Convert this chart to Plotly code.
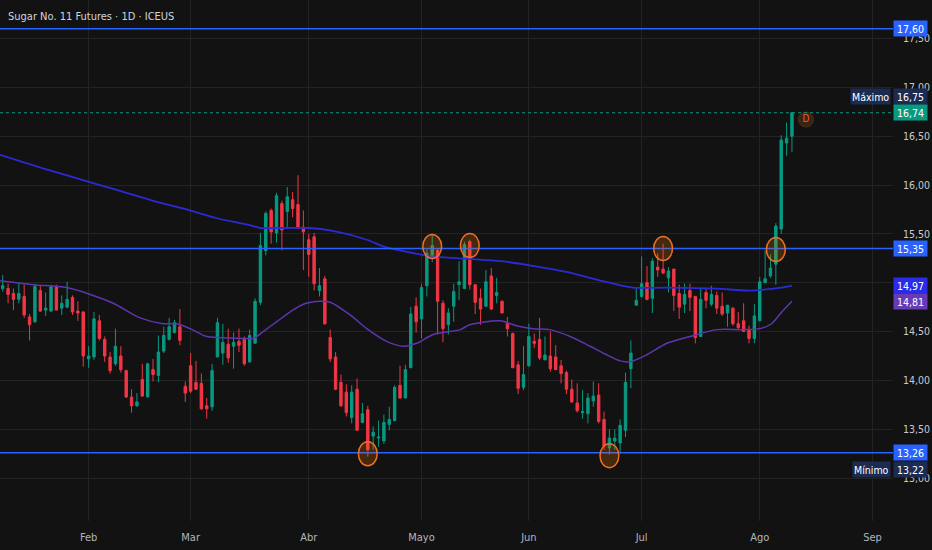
import plotly.graph_objects as go

# ---------------- data ----------------
bar_idx = list(range(148))

opens = [14.94,14.94,14.89,14.83,14.86,14.65,14.60,14.92,14.72,14.71,
14.96,14.74,14.75,14.85,14.71,14.70,14.22,14.24,14.61,14.42,
14.24,14.17,14.25,14.10,13.83,13.74,14.01,13.83,14.11,14.05,
14.30,14.42,14.49,14.55,13.94,14.15,13.98,13.97,13.74,13.73,
14.24,14.28,14.37,14.35,14.40,14.42,14.19,14.38,14.80,15.33,
15.74,15.51,15.81,15.73,15.85,15.80,15.57,15.44,15.47,14.92,
15.04,14.44,14.24,13.98,13.88,13.62,13.91,13.57,13.70,13.43,
13.41,13.38,13.55,13.59,13.95,13.82,14.13,14.76,14.63,14.97,
15.28,15.33,14.79,14.57,14.76,14.98,14.94,15.42,14.98,14.84,
14.76,15.07,14.87,14.81,14.58,14.48,14.16,13.93,14.15,14.40,
14.42,14.21,14.25,14.24,14.15,14.08,13.91,13.77,13.67,13.66,
13.79,13.85,13.60,13.31,13.38,13.36,13.49,14.12,14.77,14.86,
15.00,14.84,15.16,15.14,15.05,15.14,14.89,14.78,14.92,14.86,
14.45,14.90,14.78,14.87,14.76,14.69,14.74,14.58,14.61,14.52,
14.43,14.61,15.00,15.07,15.19,15.55,16.43,16.50]

highs = [15.08,14.99,14.94,14.99,14.98,14.68,14.99,14.98,14.90,14.98,
14.98,14.87,15.01,14.87,14.81,14.71,14.35,14.70,14.67,14.45,
14.29,14.53,14.35,14.11,13.91,13.87,14.17,14.18,14.22,14.46,
14.55,14.64,14.62,14.73,13.99,14.28,14.20,14.07,13.82,14.17,
14.64,14.58,14.53,14.49,14.53,14.45,14.52,14.84,15.51,15.73,
15.76,15.92,15.84,15.98,15.93,16.10,15.74,15.50,15.51,15.15,
15.07,14.52,14.29,14.06,13.96,13.95,14.02,13.77,13.74,13.53,
13.59,13.65,13.73,13.95,14.15,14.16,14.75,14.85,14.99,15.34,
15.50,15.35,14.82,14.74,14.99,15.22,15.42,15.44,14.98,14.94,
15.13,15.15,15.05,14.82,14.65,14.49,14.20,14.35,14.58,14.48,
14.64,14.45,14.50,14.36,14.21,14.10,14.01,13.97,13.90,13.87,
13.99,13.97,13.68,13.50,13.50,13.60,14.08,14.41,14.94,15.27,
15.17,15.25,15.30,15.40,15.16,15.14,14.98,14.99,14.99,14.86,
14.94,14.94,14.97,14.91,14.90,14.77,14.75,14.70,14.79,14.56,
14.78,15.06,15.33,15.29,15.61,16.51,16.64,16.75]

lows = [14.91,14.79,14.72,14.79,14.64,14.41,14.59,14.70,14.66,14.70,
14.72,14.67,14.74,14.67,14.61,14.14,14.13,14.21,14.41,14.19,
14.07,14.15,14.08,13.82,13.67,13.73,13.83,13.83,13.99,13.98,
14.28,14.41,14.48,14.36,13.78,13.87,13.90,13.70,13.61,13.69,
14.24,14.16,14.18,14.12,14.29,14.15,14.18,14.38,14.77,15.28,
15.40,15.41,15.33,15.55,15.67,15.55,15.13,15.06,14.92,14.86,
14.57,14.19,13.90,13.73,13.63,13.56,13.49,13.56,13.22,13.29,
13.32,13.35,13.49,13.58,13.81,13.82,14.13,14.49,14.43,14.86,
15.21,14.47,14.39,14.47,14.60,14.82,14.94,14.93,14.68,14.57,
14.75,14.72,14.79,14.69,14.45,14.13,13.86,13.90,14.14,14.33,
14.21,14.21,14.09,14.11,13.97,13.86,13.77,13.67,13.61,13.56,
13.73,13.56,13.29,13.24,13.29,13.25,13.42,13.92,14.77,14.85,
14.82,14.69,15.06,15.09,14.90,14.71,14.63,14.69,14.71,14.38,
14.45,14.74,14.76,14.68,14.66,14.55,14.56,14.52,14.50,14.38,
14.38,14.61,15.00,15.05,14.98,15.50,16.30,16.34]

closes = [14.97,14.88,14.83,14.89,14.67,14.57,14.96,14.71,14.74,14.96,
14.72,14.79,14.83,14.70,14.69,14.25,14.25,14.63,14.43,14.25,
14.10,14.35,14.11,13.83,13.74,13.78,13.84,14.17,14.06,14.29,
14.46,14.55,14.59,14.41,13.87,13.89,13.91,13.71,13.71,14.10,
14.59,14.39,14.23,14.39,14.36,14.17,14.46,14.81,15.38,15.71,
15.52,15.89,15.54,15.88,15.76,15.56,15.52,15.29,14.99,14.97,
14.58,14.22,13.91,13.74,13.67,13.88,13.49,13.66,13.29,13.47,
13.42,13.57,13.60,13.93,13.82,14.11,14.68,14.60,14.95,15.30,
15.38,14.81,14.53,14.69,14.91,15.01,15.39,14.98,14.80,14.73,
15.01,14.73,14.90,14.69,14.53,14.13,13.92,14.06,14.45,14.38,
14.23,14.26,14.12,14.11,14.07,13.91,13.78,13.69,13.68,13.82,
13.84,13.58,13.33,13.41,13.41,13.54,13.98,14.28,14.82,14.99,
14.83,15.22,15.13,15.10,15.12,14.87,14.75,14.88,14.85,14.44,
14.83,14.82,14.88,14.74,14.68,14.77,14.58,14.54,14.50,14.43,
14.66,15.01,15.04,15.15,15.58,16.46,16.48,16.74]

# moving averages (bar index, value)
ma_long_idx = [-0.5, 8.8, 18.1, 24.3, 29.3, 33.6, 39.9, 46, 48, 52, 57, 61.5,
               67.8, 71, 74, 80, 85, 93, 99, 105, 113, 117.4, 123.7, 133, 139,
               145, 147]
ma_long = [16.31, 16.15, 16.00, 15.90, 15.82, 15.76, 15.66, 15.59, 15.56, 15.56,
           15.56, 15.53, 15.44, 15.37, 15.33, 15.27, 15.25, 15.22, 15.17, 15.11,
           15.00, 14.95, 14.95, 14.94, 14.92, 14.95, 14.97]

ma_short_idx = [-0.5, 5.7, 11.9, 16.3, 20.6, 25.6, 29.9, 32.4, 34.9, 38, 40,
                44.8, 46.7, 48.5, 51, 53.5, 56, 59.1, 61, 64.7, 67.8, 71.5, 74.6,
                77.1, 80.2, 85.2, 87, 92.6, 95.7, 98.8, 101.9, 105.7, 109.4,
                112.2, 115, 116.8, 119.9, 123.7, 128, 133, 137.9, 141, 143.2,
                145.1, 147]
ma_short = [15.02, 14.98, 14.95, 14.88, 14.79, 14.64, 14.58, 14.58, 14.53, 14.45,
            14.44, 14.43, 14.43, 14.50, 14.60, 14.70, 14.78, 14.81, 14.80, 14.67,
            14.53, 14.40, 14.35, 14.38, 14.47, 14.52, 14.57, 14.61, 14.56, 14.53,
            14.52, 14.45, 14.35, 14.27, 14.20, 14.19, 14.26, 14.38, 14.45, 14.52,
            14.52, 14.53, 14.58, 14.70, 14.81]

# horizontal levels
level_prices = [17.60, 15.35, 13.26]

# circled touches (bar index, price)
circle_idx = [68, 80, 87, 113, 123, 144]
circle_price = [13.25, 15.37, 15.38, 13.23, 15.35, 15.34]

# event marker
event_idx = [149.6]
event_price = [16.67]
event_text = ["D"]

# x-axis month labels (bar index of first session of month)
month_idx = [16, 35, 57, 78, 98, 119, 141, 162]
month_labels = ["Feb", "Mar", "Abr", "Mayo", "Jun", "Jul", "Ago", "Sep"]

# price-axis ticks; the 15,00 label sits fully under the 14,97 badge in the reference
price_ticks = [13.0, 13.5, 14.0, 14.5, 15.0, 15.5, 16.0, 16.5, 17.0, 17.5]
price_tick_text = ["13,00", "13,50", "14,00", "14,50", "", "15,50", "16,00",
                   "16,50", "17,00", "17,50"]

title_text = "Sugar No. 11 Futures · 1D · ICEUS"

# ---------------- style ----------------
BG = "#121212"
GRID = "#232323"
UP = "#089981"
DOWN = "#f23645"
LEVEL = "#2962ff"
MA_LONG_C = "#2b2bd6"
MA_SHORT_C = "#5e35b1"
NAVY = "#1c2b52"
FONT = "Liberation Sans Narrow, DejaVu Sans Condensed, Liberation Sans, Arial, sans-serif"

def fmt(v):
    return f"{v:.2f}".replace(".", ",")

fig = go.Figure()

fig.add_trace(go.Candlestick(
    x=bar_idx, open=opens, high=highs, low=lows, close=closes,
    increasing=dict(line=dict(color=UP, width=1), fillcolor=UP),
    decreasing=dict(line=dict(color=DOWN, width=1), fillcolor=DOWN),
    whiskerwidth=0, showlegend=False, hoverinfo="skip",
))

fig.add_trace(go.Scatter(
    x=ma_long_idx, y=ma_long, mode="lines",
    line=dict(color=MA_LONG_C, width=1.8, shape="spline", smoothing=0.8),
    showlegend=False, hoverinfo="skip",
))
fig.add_trace(go.Scatter(
    x=ma_short_idx, y=ma_short, mode="lines",
    line=dict(color=MA_SHORT_C, width=1.5, shape="spline", smoothing=0.8),
    showlegend=False, hoverinfo="skip",
))

# event marker "D"
fig.add_trace(go.Scatter(
    x=event_idx, y=event_price, mode="markers+text", text=event_text,
    textposition="middle center",
    textfont=dict(color="#e8612c", size=10, family=FONT),
    marker=dict(size=15, color="#3a2416", line=dict(color="#4d2d18", width=1)),
    showlegend=False, hoverinfo="skip",
))

shapes = []
for p in level_prices:
    shapes.append(dict(type="line", xref="paper", x0=0, x1=1, yref="y", y0=p, y1=p,
                       line=dict(color=LEVEL, width=1.5)))
# last price dotted line
shapes.append(dict(type="line", xref="paper", x0=0, x1=1, yref="y",
                   y0=closes[-1], y1=closes[-1],
                   line=dict(color=UP, width=1, dash="dot")))
HW, HH = 1.75, 0.123
for ci, cp in zip(circle_idx, circle_price):
    shapes.append(dict(type="circle", xref="x", yref="y",
                       x0=ci - HW, x1=ci + HW, y0=cp - HH, y1=cp + HH,
                       line=dict(color="#e8702a", width=1.5),
                       fillcolor="rgba(245,124,0,0.22)"))

annotations = [dict(
    text=title_text, xref="paper", yref="paper", x=0, y=1, xshift=6, yshift=-16,
    xanchor="left", yanchor="middle", showarrow=False,
    font=dict(color="#d1d4dc", size=11, family=FONT),
)]

def badge(value, color, yshift=0):
    return dict(text=fmt(value), xref="paper", yref="y", x=1, y=value,
                xanchor="left", yanchor="middle", yshift=yshift, showarrow=False,
                bgcolor=color, width=31, height=13, borderpad=1, align="center",
                font=dict(color="white", size=10.5, family=FONT))

def tag(label, value, yshift):
    return dict(text=label, xref="paper", yref="y", x=1, y=value, xshift=-2,
                xanchor="right", yanchor="middle", yshift=yshift, showarrow=False,
                bgcolor=NAVY, height=13, borderpad=1,
                font=dict(color="white", size=10.5, family=FONT))

hi_val = max(highs)
lo_val = min(lows)
annotations += [
    badge(level_prices[0], LEVEL),
    badge(hi_val, NAVY, 15), tag("Máximo", hi_val, 15),
    badge(closes[-1], UP),
    badge(level_prices[1], LEVEL),
    badge(ma_long[-1], "#2b2be8"),
    badge(ma_short[-1], "#673ab7"),
    badge(level_prices[2], LEVEL),
    badge(lo_val, NAVY, -13), tag("Mínimo", lo_val, -13),
]

fig.update_layout(
    width=932, height=550,
    margin=dict(l=0, r=39, t=0, b=29),
    paper_bgcolor=BG, plot_bgcolor=BG,
    separators=",.",
    boxgap=0.36,
    showlegend=False,
    shapes=shapes,
    annotations=annotations,
    font=dict(family=FONT, color="#b2b5be", size=11),
    xaxis=dict(
        range=[-0.503, 165.82], rangeslider=dict(visible=False),
        tickmode="array", tickvals=month_idx, ticktext=month_labels,
        showgrid=True, gridcolor=GRID, gridwidth=1, zeroline=False,
        showline=False, ticks="outside", ticklen=6, tickcolor=BG,
        tickfont=dict(color="#b2b5be", size=11, family=FONT),
        fixedrange=True,
    ),
    yaxis=dict(
        range=[12.561, 17.894], side="right",
        tickmode="array", tickvals=price_ticks, ticktext=price_tick_text,
        showgrid=True, gridcolor=GRID, gridwidth=1, zeroline=False,
        showline=False, ticks="outside", ticklen=7, tickcolor=BG,
        tickfont=dict(color="#c8cbd2", size=10.5, family=FONT),
        fixedrange=True,
    ),
)

fig.write_html(
    "out.html",
    config={"displayModeBar": False},
    post_script="document.body.style.margin='0';document.body.style.padding='0';"
                "document.body.style.overflow='hidden';"
                "document.body.style.background='#121212';",
)
